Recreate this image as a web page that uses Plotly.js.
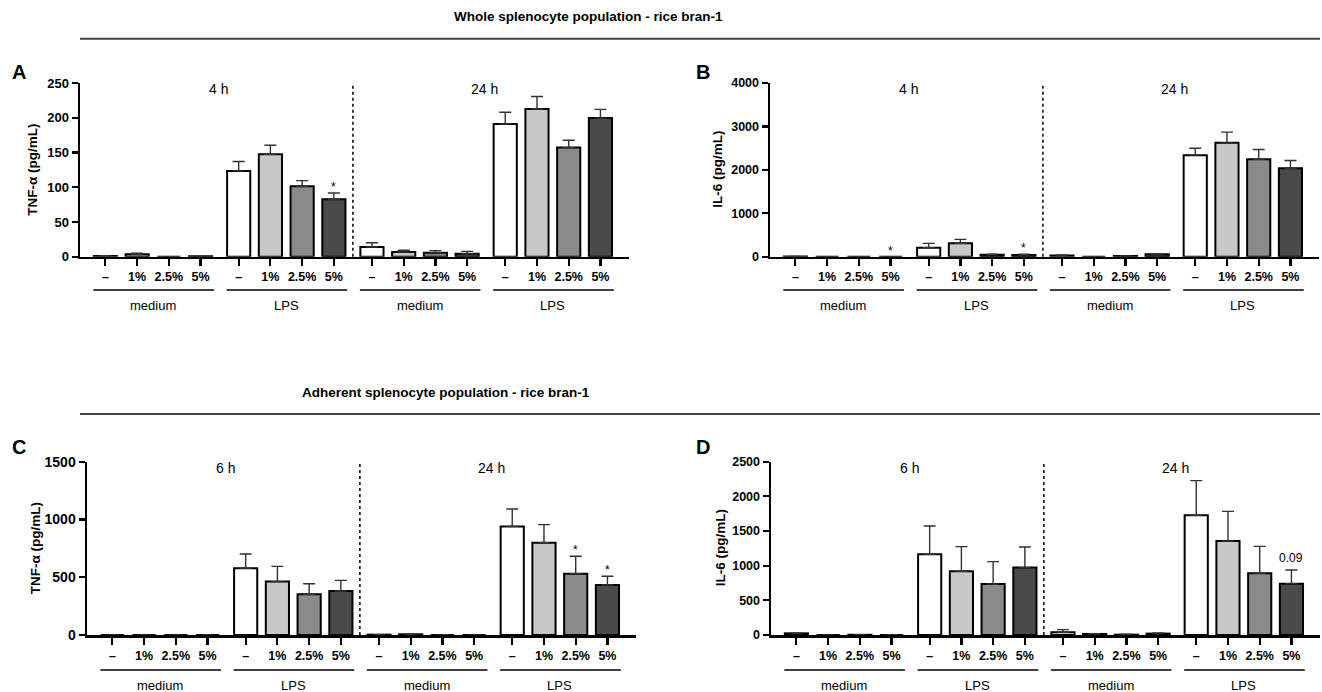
<!DOCTYPE html>
<html>
<head>
<meta charset="utf-8">
<script src="https://cdn.plot.ly/plotly-3.0.1.min.js"></script>
<style>html,body{margin:0;padding:0;background:#fff;}#chart{width:1322px;height:692px;}</style>
</head>
<body>
<div id="chart"></div>
<script>
// ---------- data ----------
const concentrations = ["–", "1%", "2.5%", "5%"];
const treatments = ["medium", "LPS"];
const timesWhole = ["4 h", "24 h"];
const timesAdherent = ["6 h", "24 h"];
const titleWhole = "Whole splenocyte population - rice bran-1";
const titleAdherent = "Adherent splenocyte population - rice bran-1";

// order: time1 medium (–,1,2.5,5), time1 LPS, time2 medium, time2 LPS
const tnfWhole    = [1, 3.4, 0, 0.5,   123.5, 147.5, 101.5, 82.7,  14, 6.7, 5.8, 4.3,   191, 212.5, 157, 199.5];
const tnfWholeErr = [0.5, 1.5, 0, 0.3, 13.5, 13, 8, 9,             6, 2.5, 3, 3.4,      17, 18, 10.5, 12.5];
const tnfWholeSig = ["", "", "", "", "", "", "", "*", "", "", "", "", "", "", "", ""];

const il6Whole    = [5, 0, 0, 0,       208, 308, 45, 40,           30, 0, 15, 55,       2338, 2622, 2245, 2038];
const il6WholeErr = [3, 0, 0, 0,       100, 92, 15, 20,            10, 0, 5, 15,        160, 246, 223, 177];
const il6WholeSig = ["", "", "", "*", "", "", "", "*", "", "", "", "", "", "", "", ""];

const tnfAdh      = [0, 0, 0, 0,       577, 462, 352, 381,         3, 6, 0, 0,          940, 799, 531, 433];
const tnfAdhErr   = [0, 0, 0, 0,       124, 132, 92, 92,           0, 3, 0, 0,          150, 156, 150, 75];
const tnfAdhSig   = ["", "", "", "", "", "", "", "", "", "", "", "", "", "", "*", "*"];

const il6Adh      = [24, 0, 3, 0,      1164, 919, 736, 972,        38, 15, 5, 20,       1727, 1356, 890, 741];
const il6AdhErr   = [5, 0, 2, 0,       409, 356, 322, 298,         40, 5, 5, 10,        500, 428, 389, 197];
const il6AdhSig   = ["", "", "", "", "", "", "", "", "", "", "", "", "", "", "", "0.09"];

const barColors = ["#ffffff", "#c8c8c8", "#8a8a8a", "#4a4a4a"];

// ---------- layout helpers ----------
const FONT = "Liberation Sans, Arial, Helvetica, sans-serif";
const GROUP_STEP = 4.2;
const W = 1322, H = 692;
const px = v => v / W;
const py = v => 1 - v / H;

const positions = [];
const tickText = [];
for (let g = 0; g < 4; g++) {
  for (let i = 0; i < concentrations.length; i++) {
    positions.push(g * GROUP_STEP + i);
    tickText.push(concentrations[i]);
  }
}
const colorArr = positions.map((_, k) => barColors[k % 4]);

const panels = [
  {vals: tnfWhole, errs: tnfWholeErr, sig: tnfWholeSig, range: [0, 250], dtick: 50, ytitle: "TNF-α (pg/mL)", letter: "A", times: timesWhole,
   xdom: [px(80), px(629)], ydom: [py(256.7), py(83)], ytitleX: 33, letterX: 19, letterY: 72, lineY: 290, labY: 305, yfs: 13},
  {vals: il6Whole, errs: il6WholeErr, sig: il6WholeSig, range: [0, 4000], dtick: 1000, ytitle: "IL-6 (pg/mL)", letter: "B", times: timesWhole,
   xdom: [px(770), px(1319)], ydom: [py(256.7), py(83)], ytitleX: 718, letterX: 703, letterY: 72, lineY: 290, labY: 305, yfs: 12.5},
  {vals: tnfAdh, errs: tnfAdhErr, sig: tnfAdhSig, range: [0, 1500], dtick: 500, ytitle: "TNF-α (pg/mL)", letter: "C", times: timesAdherent,
   xdom: [px(87), px(636)], ydom: [py(635), py(461.7)], ytitleX: 35, letterX: 19, letterY: 447, lineY: 670, labY: 685, yfs: 14},
  {vals: il6Adh, errs: il6AdhErr, sig: il6AdhSig, range: [0, 2500], dtick: 500, ytitle: "IL-6 (pg/mL)", letter: "D", times: timesAdherent,
   xdom: [px(771), px(1320)], ydom: [py(635), py(461.7)], ytitleX: 720, letterX: 703, letterY: 447, lineY: 670, labY: 685, yfs: 12.5}
];

const data = [];
const layout = {
  width: W, height: H,
  margin: {l: 0, r: 0, t: 0, b: 0},
  paper_bgcolor: "#fff", plot_bgcolor: "rgba(0,0,0,0)",
  showlegend: false,
  bargap: 0,
  font: {family: FONT, color: "#000", size: 12},
  shapes: [], annotations: []
};

panels.forEach((p, n) => {
  const sfx = n === 0 ? "" : String(n + 1);
  const xa = "x" + sfx, ya = "y" + sfx;
  data.push({
    type: "bar", x: positions, y: p.vals, width: 0.73,
    xaxis: xa, yaxis: ya,
    marker: {color: colorArr, line: {color: "#000", width: 2}},
    error_y: {type: "data", symmetric: false, array: p.errs, arrayminus: p.errs.map(() => 0),
              color: "#333", thickness: 1.4, width: 6},
    hoverinfo: "y"
  });
  layout["xaxis" + sfx] = {
    domain: p.xdom, anchor: ya, range: [-0.8, 16.5],
    showline: true, linecolor: "#000", linewidth: 2.5, showgrid: false, zeroline: false,
    tickmode: "array", tickvals: positions, ticktext: tickText,
    ticks: "outside", ticklen: 7, tickwidth: 2.2, tickcolor: "#000",
    tickfont: {family: FONT, size: 12.5, weight: "bold", color: "#000"},
    fixedrange: true
  };
  layout["yaxis" + sfx] = {
    domain: p.ydom, anchor: xa, range: p.range, dtick: p.dtick,
    showline: true, linecolor: "#000", linewidth: 2.5, showgrid: false, zeroline: false,
    ticks: "outside", ticklen: 6, tickwidth: 2.2, tickcolor: "#000",
    tickfont: {family: FONT, size: p.yfs, weight: "bold", color: "#000"},
    fixedrange: true
  };
  // dotted separator between time points
  layout.shapes.push({type: "line", xref: xa, yref: "paper",
    x0: 1 * GROUP_STEP + 3.6, x1: 1 * GROUP_STEP + 3.6, y0: p.ydom[0], y1: p.ydom[1],
    line: {color: "#000", width: 1.5, dash: "dot"}});
  // group underlines and labels
  for (let g = 0; g < 4; g++) {
    const start = g * GROUP_STEP;
    layout.shapes.push({type: "line", xref: xa, yref: "paper",
      x0: start - 0.38, x1: start + 3.42, y0: py(p.lineY), y1: py(p.lineY),
      line: {color: "#000", width: 1.5}});
    layout.annotations.push({xref: xa, yref: "paper", x: start + 1.5, y: py(p.labY),
      text: treatments[g % 2], showarrow: false, yanchor: "middle",
      font: {family: FONT, size: 13, color: "#000"}});
  }
  // time labels
  [3.55, 11.95].forEach((xv, t) => {
    layout.annotations.push({xref: xa, yref: "paper", x: xv, y: p.ydom[1],
      text: p.times[t], showarrow: false, yanchor: "middle", yshift: -6,
      font: {family: FONT, size: 14, color: "#000"}});
  });
  // significance marks
  p.sig.forEach((s, k) => {
    if (!s) return;
    layout.annotations.push({xref: xa, yref: ya, x: positions[k], y: p.vals[k] + p.errs[k],
      text: s, showarrow: false, yanchor: "bottom", yshift: s === "*" ? -3 : 3,
      font: {family: FONT, size: 12, color: "#000"}});
  });
  // y title
  layout.annotations.push({xref: "paper", yref: "paper", x: px(p.ytitleX), y: (p.ydom[0] + p.ydom[1]) / 2,
    text: p.ytitle, textangle: -90, showarrow: false, xanchor: "center", yanchor: "middle",
    font: {family: FONT, size: 13.5, weight: "bold", color: "#000"}});
  // panel letter
  layout.annotations.push({xref: "paper", yref: "paper", x: px(p.letterX), y: py(p.letterY),
    text: p.letter, showarrow: false, xanchor: "center", yanchor: "middle",
    font: {family: FONT, size: 20, weight: "bold", color: "#000"}});
});

// section titles and rules
[[titleWhole, 588, 17, 38.7], [titleAdherent, 446, 392, 414]].forEach(([txt, cx, cy, ly]) => {
  layout.annotations.push({xref: "paper", yref: "paper", x: px(cx), y: py(cy), text: txt,
    showarrow: false, xanchor: "center", yanchor: "middle",
    font: {family: FONT, size: 13.5, weight: "bold", color: "#000"}});
  layout.shapes.push({type: "line", xref: "paper", yref: "paper", x0: px(80), x1: px(1320), y0: py(ly), y1: py(ly),
    line: {color: "#444", width: 2}});
});

Plotly.newPlot("chart", data, layout, {displayModeBar: false, staticPlot: true});
</script>
</body>
</html>
